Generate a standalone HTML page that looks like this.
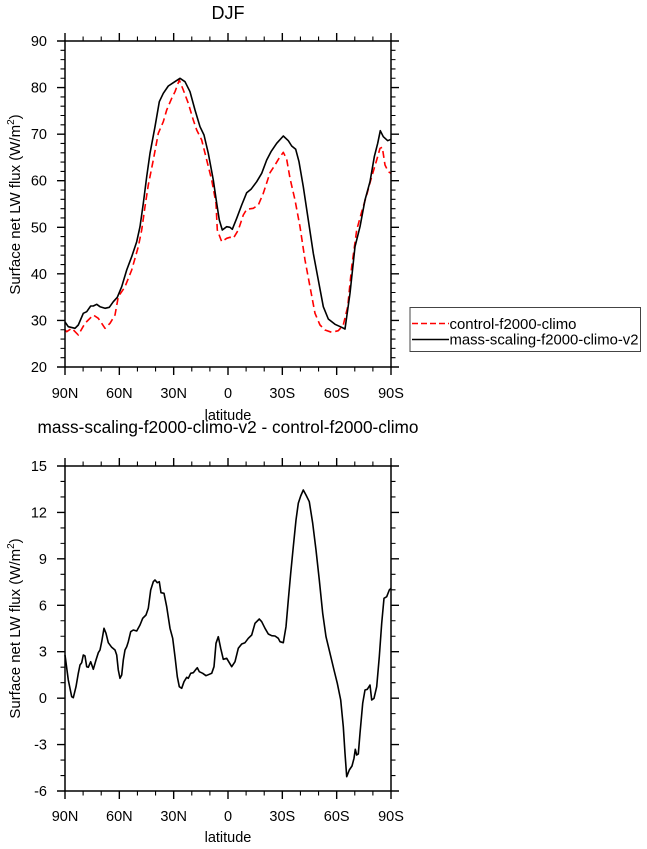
<!DOCTYPE html>
<html>
<head>
<meta charset="utf-8">
<style>
html,body{margin:0;padding:0;background:#fff;}
svg{display:block;}
text{font-family:"Liberation Sans",Arial,sans-serif;fill:#000;}
</style>
</head>
<body>
<svg width="647" height="849" viewBox="0 0 647 849" xmlns="http://www.w3.org/2000/svg">
<rect x="0" y="0" width="647" height="849" fill="#fff"/>

<!-- ================= TOP PLOT ================= -->
<text x="228" y="19" font-size="18" text-anchor="middle">DJF</text>

<!-- curves -->
<polyline fill="none" stroke="#ff0000" stroke-width="1.6" stroke-dasharray="7,4" stroke-linejoin="round"
points="65,330 66.7,331.7 71.7,328.3 78.3,335 85,323.3 93.3,315 98.3,318.3 105,328.3 110,323.3 115,315 118.3,296.7 121.7,291.7 125,286.7 131.7,270 138.3,246.7 141.7,230 145,206.7 148.3,185 153.3,160 158.3,133.3 163.3,121.7 166.7,110 171.7,98.3 175,91.7 179.3,80 183.3,90 188.3,103.3 193.3,120 196.7,130 201.7,140 206.7,160 211.7,180 216,203.3 217.3,230 221.7,241.7 226.7,238.3 230,237.3 233.3,238.3 238.3,230 243.3,215 246.7,209.3 253.3,208.3 258.3,205 263.3,193.3 270,172.7 275,165 279,158.3 283.3,152.3 286.7,159.3 290,178.3 295,200 300,226.7 305,260 310,286.7 315,313.3 320,325 325,330 331.7,332.3 338.3,330.7 343.3,325 347.7,306.7 351.7,266.7 356.7,230 361.7,211.7 366.7,195 371.7,176.7 376.7,160 380,148.3 382.3,147.3 385,165 388.3,171.7 391,173.3"/>
<polyline fill="none" stroke="#000" stroke-width="1.6" stroke-linejoin="round"
points="65,322 68.3,326.7 75,328.3 78.3,325 83.3,313.3 86.7,311.7 90.7,306 93.3,306 96.7,304.3 100,306.7 105,308.3 109.3,307.3 113.3,301.7 117.3,297.3 121.7,286.7 126.7,270 131.7,256.7 136.7,241.7 140,226.7 143.3,203.3 146.7,176.7 150,153.3 155,126.7 159.3,101.7 163.3,93.3 168.3,86 173.3,82.7 180,78.3 185,81.7 190,91.7 195,110 200,126.7 204,135 208.3,153.3 213.3,180 216.7,203.3 219.3,220 222.3,230 226.7,226.7 230,227.3 232.3,229.3 236.7,218.3 241.7,205 246.7,192.7 251,189.3 256.7,181.7 261.7,173.3 266.7,160 271,151.7 276.7,143.3 283.3,136 288.3,140.7 291.7,146 295.7,149.3 299,161.7 303.3,186.7 308.3,220 313.3,253.3 318.3,280 323.3,306.7 328.3,319 335,324.3 341.7,327.3 345,329 350,293.3 355,246.7 360,226.7 365,200 370,181.7 374.3,156.7 377.7,143.3 380.3,130.7 383.3,136.7 387.7,140.7 391,139.3"/>

<!-- axes -->
<rect x="65" y="41" width="326" height="326" fill="none" stroke="#000" stroke-width="1.5"/>
<!-- major ticks -->
<path fill="none" stroke="#000" stroke-width="1.4" d="
M65 41h-8M65 87.57h-8M65 134.14h-8M65 180.71h-8M65 227.29h-8M65 273.86h-8M65 320.43h-8M65 367h-8
M391 41h8M391 87.57h8M391 134.14h8M391 180.71h8M391 227.29h8M391 273.86h8M391 320.43h8M391 367h8
M65 41v-8M119.33 41v-8M173.67 41v-8M228 41v-8M282.33 41v-8M336.67 41v-8M391 41v-8
M65 367v8M119.33 367v8M173.67 367v8M228 367v8M282.33 367v8M336.67 367v8M391 367v8"/>
<!-- minor ticks -->
<path fill="none" stroke="#000" stroke-width="1.1" d="
M65 50.31h-4.5M65 59.63h-4.5M65 68.94h-4.5M65 78.26h-4.5M65 96.89h-4.5M65 106.2h-4.5M65 115.51h-4.5M65 124.83h-4.5M65 143.46h-4.5M65 152.77h-4.5M65 162.09h-4.5M65 171.4h-4.5M65 190.03h-4.5M65 199.34h-4.5M65 208.66h-4.5M65 217.97h-4.5M65 236.6h-4.5M65 245.91h-4.5M65 255.23h-4.5M65 264.54h-4.5M65 283.17h-4.5M65 292.49h-4.5M65 301.8h-4.5M65 311.11h-4.5M65 329.74h-4.5M65 339.06h-4.5M65 348.37h-4.5M65 357.69h-4.5
M391 50.31h4.5M391 59.63h4.5M391 68.94h4.5M391 78.26h4.5M391 96.89h4.5M391 106.2h4.5M391 115.51h4.5M391 124.83h4.5M391 143.46h4.5M391 152.77h4.5M391 162.09h4.5M391 171.4h4.5M391 190.03h4.5M391 199.34h4.5M391 208.66h4.5M391 217.97h4.5M391 236.6h4.5M391 245.91h4.5M391 255.23h4.5M391 264.54h4.5M391 283.17h4.5M391 292.49h4.5M391 301.8h4.5M391 311.11h4.5M391 329.74h4.5M391 339.06h4.5M391 348.37h4.5M391 357.69h4.5
M83.11 41v-4.5M101.22 41v-4.5M137.44 41v-4.5M155.56 41v-4.5M191.78 41v-4.5M209.89 41v-4.5M246.11 41v-4.5M264.22 41v-4.5M300.44 41v-4.5M318.56 41v-4.5M354.78 41v-4.5M372.89 41v-4.5
M83.11 367v4.5M101.22 367v4.5M137.44 367v4.5M155.56 367v4.5M191.78 367v4.5M209.89 367v4.5M246.11 367v4.5M264.22 367v4.5M300.44 367v4.5M318.56 367v4.5M354.78 367v4.5M372.89 367v4.5"/>

<!-- y tick labels -->
<g font-size="14.5" text-anchor="end">
<text x="47" y="46">90</text>
<text x="47" y="92.6">80</text>
<text x="47" y="139.1">70</text>
<text x="47" y="185.7">60</text>
<text x="47" y="232.3">50</text>
<text x="47" y="278.9">40</text>
<text x="47" y="325.4">30</text>
<text x="47" y="372">20</text>
</g>
<!-- x tick labels -->
<g font-size="14.5" text-anchor="middle">
<text x="65" y="398">90N</text>
<text x="119.33" y="398">60N</text>
<text x="173.67" y="398">30N</text>
<text x="228" y="398">0</text>
<text x="282.33" y="398">30S</text>
<text x="336.67" y="398">60S</text>
<text x="391" y="398">90S</text>
</g>
<text x="228" y="420" font-size="14.5" text-anchor="middle">latitude</text>
<text transform="translate(20,204.5) rotate(-90)" font-size="15" text-anchor="middle">Surface net LW flux (W/m<tspan font-size="10" dy="-6">2</tspan><tspan dy="6">)</tspan></text>

<!-- legend -->
<rect x="410" y="307.5" width="230.5" height="44" fill="#fff" stroke="#444" stroke-width="1"/>
<line x1="412" y1="323.5" x2="449" y2="323.5" stroke="#ff0000" stroke-width="1.5" stroke-dasharray="6,3"/>
<line x1="412" y1="339.5" x2="449" y2="339.5" stroke="#000" stroke-width="1.5"/>
<text x="449.5" y="329" font-size="14.5" textLength="127" lengthAdjust="spacingAndGlyphs">control-f2000-climo</text>
<text x="449.5" y="344.5" font-size="14.5" textLength="189" lengthAdjust="spacingAndGlyphs">mass-scaling-f2000-climo-v2</text>

<!-- ================= BOTTOM PLOT ================= -->
<text x="228" y="433" font-size="17.5" text-anchor="middle" textLength="381" lengthAdjust="spacingAndGlyphs">mass-scaling-f2000-climo-v2 - control-f2000-climo</text>

<polyline fill="none" stroke="#000" stroke-width="1.6" stroke-linejoin="round"
points="65,655 68.3,680 71.7,696.7 73.3,697.7 76,686.7 78.3,673.3 80,665 81.7,662.7 83.3,655 85,656 86.7,666.7 88.3,667.3 90.7,661.7 93.3,669.3 96,660 98.3,652.7 100,650 101.7,641.7 104,628.3 106,633.3 108.3,642.7 111.7,647.3 115,650 116.7,655 118.3,670 120,678.3 121.7,675 123.3,660 125,650 126.7,646.7 128.3,641.7 130.7,631.7 133.3,630 136.7,631 140,625 142.7,618.3 146,615 148.3,608.3 150.7,590 153.3,581.7 155,580 157.3,582.7 159.3,581.7 161,592.7 164,593.3 166.7,606.7 170,628.3 172.7,638.3 175,656.7 177.3,676.7 179.3,686.7 181.7,688.3 184,681.7 186.7,677.3 188.3,678.3 190.7,673.3 193.3,672.7 196,669.3 197.3,667.7 199.3,671.7 202.7,673.3 206,675.7 209.3,674.3 211.7,673.3 214,666.7 216,643.3 218.3,636.7 220.7,648.3 223.3,659.3 226.7,658.3 229.3,662.7 231.7,666.7 235,661.7 238.3,648.3 241.7,644 245,642.7 248.3,638.3 251.7,635 255,623.3 259.3,619 261.7,621.7 265,628.3 268.3,634 271.7,635.7 275,636 278.3,638.3 280,641.7 283.3,642.7 286,626.7 288.3,600 290.7,573.3 293.3,546.7 296,520 298.3,503.3 300.7,496 303.3,490 306,495 309.3,501.7 312.7,523.3 316,550 319.3,580 322.7,613.3 326,636.7 330,653.3 334,670 337.3,683.3 340.7,700 343.3,726.7 345,753.3 346.7,776.7 349.3,770 352,766 354,758.3 355.3,749.3 356.7,755 358.3,754 360,733.3 362.7,703.3 365,690 367.3,689.3 370,685 371.7,700 374,698.3 376.7,686.7 379.3,656.7 381.7,623.3 384,598.3 386.7,596.7 389.3,590 391,588.3"/>

<rect x="65" y="466" width="326" height="325" fill="none" stroke="#000" stroke-width="1.5"/>
<path fill="none" stroke="#000" stroke-width="1.4" d="
M65 466h-8M65 512.43h-8M65 558.86h-8M65 605.29h-8M65 651.71h-8M65 698.14h-8M65 744.57h-8M65 791h-8
M391 466h8M391 512.43h8M391 558.86h8M391 605.29h8M391 651.71h8M391 698.14h8M391 744.57h8M391 791h8
M65 466v-8M119.33 466v-8M173.67 466v-8M228 466v-8M282.33 466v-8M336.67 466v-8M391 466v-8
M65 791v8M119.33 791v8M173.67 791v8M228 791v8M282.33 791v8M336.67 791v8M391 791v8"/>
<path fill="none" stroke="#000" stroke-width="1.1" d="
M65 481.48h-4.5M65 496.95h-4.5M65 527.9h-4.5M65 543.38h-4.5M65 574.33h-4.5M65 589.81h-4.5M65 620.76h-4.5M65 636.24h-4.5M65 667.19h-4.5M65 682.67h-4.5M65 713.62h-4.5M65 729.1h-4.5M65 760.05h-4.5M65 775.52h-4.5
M391 481.48h4.5M391 496.95h4.5M391 527.9h4.5M391 543.38h4.5M391 574.33h4.5M391 589.81h4.5M391 620.76h4.5M391 636.24h4.5M391 667.19h4.5M391 682.67h4.5M391 713.62h4.5M391 729.1h4.5M391 760.05h4.5M391 775.52h4.5
M83.11 466v-4.5M101.22 466v-4.5M137.44 466v-4.5M155.56 466v-4.5M191.78 466v-4.5M209.89 466v-4.5M246.11 466v-4.5M264.22 466v-4.5M300.44 466v-4.5M318.56 466v-4.5M354.78 466v-4.5M372.89 466v-4.5
M83.11 791v4.5M101.22 791v4.5M137.44 791v4.5M155.56 791v4.5M191.78 791v4.5M209.89 791v4.5M246.11 791v4.5M264.22 791v4.5M300.44 791v4.5M318.56 791v4.5M354.78 791v4.5M372.89 791v4.5"/>

<g font-size="14.5" text-anchor="end">
<text x="47" y="471">15</text>
<text x="47" y="517.4">12</text>
<text x="47" y="563.9">9</text>
<text x="47" y="610.3">6</text>
<text x="47" y="656.7">3</text>
<text x="47" y="703.1">0</text>
<text x="47" y="749.6">-3</text>
<text x="47" y="796">-6</text>
</g>
<g font-size="14.5" text-anchor="middle">
<text x="65" y="821">90N</text>
<text x="119.33" y="821">60N</text>
<text x="173.67" y="821">30N</text>
<text x="228" y="821">0</text>
<text x="282.33" y="821">30S</text>
<text x="336.67" y="821">60S</text>
<text x="391" y="821">90S</text>
</g>
<text x="228" y="842" font-size="14.5" text-anchor="middle">latitude</text>
<text transform="translate(20,628.5) rotate(-90)" font-size="15" text-anchor="middle">Surface net LW flux (W/m<tspan font-size="10" dy="-6">2</tspan><tspan dy="6">)</tspan></text>
</svg>
</body>
</html>
